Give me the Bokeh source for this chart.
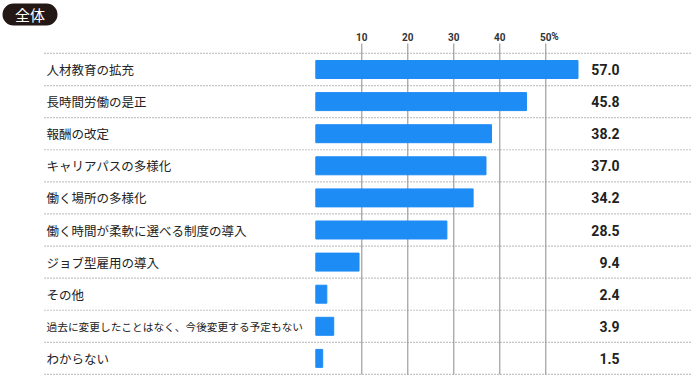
from bokeh.plotting import figure
from bokeh.models import Range1d, ColumnDataSource, BoxAnnotation
from bokeh.core.properties import value
from bokeh.embed import file_html
from bokeh.resources import INLINE

# ---- data ----
categories = [
    "人材教育の拡充",
    "長時間労働の是正",
    "報酬の改定",
    "キャリアパスの多様化",
    "働く場所の多様化",
    "働く時間が柔軟に選べる制度の導入",
    "ジョブ型雇用の導入",
    "その他",
    "過去に変更したことはなく、今後変更する予定もない",
    "わからない",
]
values = [57.0, 45.8, 38.2, 37.0, 34.2, 28.5, 9.4, 2.4, 3.9, 1.5]
tick_values = [10, 20, 30, 40, 50]
tick_labels = ["10", "20", "30", "40", "50"]
unit_label = "%"
title = "全体"

# ---- layout constants (px in figure -> data) ----
W, H = 695, 382
ZERO_PX, XSCALE = 315.3, 4.6
ROW0_PX, YSCALE = 69.0, 32.1


def dx(px):
    return (px - ZERO_PX) / XSCALE


def dy(py):
    return (py - ROW0_PX) / YSCALE


X0, X1 = dx(0), dx(W)
Y_TOP, Y_BOT = dy(0), dy(H)
LABEL_X = dx(46)
VALUE_X = dx(619)
TICK_Y = dy(36)
GRID_TOP = dy(43)
SEP_LEFT, SEP_RIGHT = dx(44), dx(691)
BAR_COLOR = "#1e8cf5"

n = len(categories)
rows = list(range(n))
label_sizes = ["10.7px" if len(c) > 20 else "12.5px" for c in categories]

src = ColumnDataSource(dict(
    y=rows, v=values, cat=categories, size=label_sizes,
    vtxt=[f"{v:.1f}" for v in values],
))

p = figure(width=W, height=H, x_range=Range1d(X0, X1), y_range=Range1d(Y_BOT, Y_TOP),
           output_backend="svg", toolbar_location=None, min_border=0,
           x_axis_location=None, y_axis_location=None)
p.outline_line_color = None
p.grid.visible = False
p.background_fill_color = "white"

# vertical grid lines
p.segment(x0=tick_values, x1=tick_values, y0=[GRID_TOP] * len(tick_values),
          y1=[dy(374)] * len(tick_values), line_color="#8a8a8a", line_width=1)

# dotted separators
seps = [i - 0.5 for i in range(n + 1)]
p.segment(x0=[SEP_LEFT] * len(seps), x1=[SEP_RIGHT] * len(seps), y0=seps, y1=seps,
          line_color="#8a8a8a", line_width=1.2, line_dash="1 2")

# bars
p.hbar(y="y", left=0, right="v", height=0.56, source=src, fill_color=BAR_COLOR,
       line_color=BAR_COLOR)

# category labels
p.text(x=LABEL_X, y="y", text="cat", source=src, text_font=value("Noto Sans CJK JP"),
       text_font_size="size", text_color="#222222", text_baseline="middle",
       text_align="left")

# value labels
p.text(x=VALUE_X, y="y", text="vtxt", source=src, text_font=value("Roboto"),
       text_font_style="bold", text_font_size="14px", text_color="#222222",
       text_baseline="middle", text_align="right")

# tick labels
p.text(x=tick_values, y=[TICK_Y] * len(tick_values), text=tick_labels,
       text_font=value("Roboto"), text_font_style="bold", text_font_size="10px",
       text_color="#333333", text_baseline="middle", text_align="center")
p.text(x=[tick_values[-1]], y=[TICK_Y], text=[unit_label], x_offset=5.5,
       text_font=value("Roboto"), text_font_style="bold", text_font_size="10px",
       text_color="#333333", text_baseline="middle", text_align="left")

# title badge
bl, br, bt, bb = dx(2), dx(57), dy(3), dy(25)
badge = BoxAnnotation(left=bl, right=br, top=bt, bottom=bb,
                      fill_color="#231815", fill_alpha=1, line_color=None,
                      border_radius=11, level="underlay")
p.add_layout(badge)
p.text(x=[(bl + br) / 2], y=[(bt + bb) / 2], text=[title],
       text_font=value("Noto Sans CJK JP"), text_font_size="15px",
       text_color="white", text_baseline="middle", text_align="center")

open("out.html", "w").write(file_html(p, INLINE))
